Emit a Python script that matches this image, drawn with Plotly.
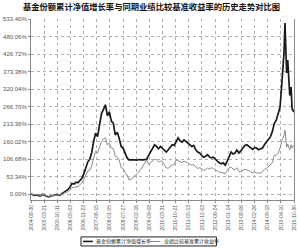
import plotly.graph_objects as go

title_text = "基金份额累计净值增长率与同期业绩比较基准收益率的历史走势对比图"
fund_name = "基金份额累计净值增长率"
bench_name = "业绩比较基准累计收益率"

months = []
for yr in range(2004, 2016):
    for mo in range(1, 13):
        if (yr == 2004 and mo < 8) or (yr == 2015 and mo > 5):
            continue
        months.append(f"{yr}-{mo:02d}-28")
tail_dates = ["2015-06-12", "2015-06-30", "2015-07-08", "2015-07-25",
              "2015-08-25", "2015-09-15", "2015-09-30", "2015-10-30"]
dates = months + tail_dates

fund = [
    0, -2, -4, -2, -6,
    -5, -1, -4, -6, -9, -7, -5, -2, -1, -4, -3, 2,
    6, 10, 14, 22, 32, 30, 36, 34, 40, 48, 62, 80,
    98, 106, 125, 160, 185, 175, 215, 245, 258, 272, 238, 250,
    222, 215, 180, 188, 170, 145, 140, 122, 110, 104, 103, 104,
    104, 103, 105, 104, 104, 105, 106, 118, 130, 142, 150, 145,
    138, 145, 140, 132, 128, 135, 142, 150, 148, 160, 171, 162,
    158, 165, 160, 155, 150, 145, 148, 135, 128, 125, 118, 112,
    115, 120, 113, 110, 112, 105, 100, 95, 92, 95, 88, 100,
    112, 128, 122, 125, 134, 125, 132, 140, 148, 150, 145, 140,
    136, 142, 140, 135, 138, 140, 150, 158, 165, 174, 190, 215,
    225, 245, 265, 347, 430,
    521, 420, 369, 408, 300, 326, 260, 250,
]

bench = [
    0, -1, -3, -2, -5,
    -4, -1, -3, -5, -7, -6, -5, -3, -2, -4, -3, 0,
    3, 5, 7, 12, 20, 19, 22, 22, 28, 34, 45, 60,
    70, 72, 85, 110, 130, 125, 140, 160, 168, 171, 150, 155,
    140, 138, 115, 112, 104, 80, 78, 65, 58, 43, 45, 50,
    55, 60, 67, 75, 85, 95, 104, 90, 95, 100, 106, 104,
    98, 100, 100, 90, 80, 78, 85, 88, 90, 104, 102, 98,
    96, 100, 98, 95, 90, 88, 90, 82, 78, 80, 78, 72,
    74, 79, 76, 80, 78, 74, 70, 66, 66, 65, 62, 72,
    80, 82, 76, 74, 80, 68, 68, 72, 75, 74, 72, 68,
    65, 67, 64, 65, 64, 68, 75, 78, 84, 88, 95, 118,
    118, 125, 140, 165, 178,
    195, 160, 143, 152, 135, 150, 140, 149,
]

y_ticks = [0.00, 53.34, 106.68, 160.02, 213.36, 266.70, 320.04, 373.38, 426.72, 480.06, 533.40]
y_labels = [f"{v:.2f}%" for v in y_ticks]

x_ticks = ["2004-08-30", "2005-03-21", "2005-10-11", "2006-05-03", "2006-11-23",
           "2007-06-15", "2008-01-05", "2008-07-27", "2009-02-16", "2009-09-08",
           "2010-03-31", "2010-10-21", "2011-05-13", "2011-12-03", "2012-06-24",
           "2013-01-14", "2013-08-06", "2014-02-26", "2014-09-18", "2015-04-10",
           "2015-10-30"]

fund_color = "#1a1a1a"
bench_color = "#8a8a8a"

fig = go.Figure()
fig.add_trace(go.Scatter(x=dates, y=fund, mode="lines", name=fund_name,
                         line=dict(color=fund_color, width=1.7)))
fig.add_trace(go.Scatter(x=dates, y=bench, mode="lines", name=bench_name,
                         line=dict(color=bench_color, width=1)))

# legend drawn as a boxed key below the axis
ly = -0.229
fig.add_shape(type="rect", xref="paper", yref="paper", x0=0.190, x1=0.705,
              y0=-0.254, y1=-0.204, line=dict(color="#222", width=1), fillcolor="white")
fig.add_shape(type="line", xref="paper", yref="paper", x0=0.198, x1=0.235,
              y0=ly, y1=ly, line=dict(color=fund_color, width=1.6))
fig.add_shape(type="line", xref="paper", yref="paper", x0=0.455, x1=0.492,
              y0=ly, y1=ly, line=dict(color=bench_color, width=1))
fig.add_annotation(xref="paper", yref="paper", x=0.240, y=ly, text=fund_name,
                   showarrow=False, xanchor="left", yanchor="middle",
                   font=dict(size=5, color="#222", family="Noto Sans CJK SC"))
fig.add_annotation(xref="paper", yref="paper", x=0.499, y=ly, text=bench_name,
                   showarrow=False, xanchor="left", yanchor="middle",
                   font=dict(size=5, color="#222", family="Noto Sans CJK SC"))

fig.update_layout(
    width=300, height=249,
    margin=dict(l=29, r=3, t=19, b=49),
    paper_bgcolor="white", plot_bgcolor="white",
    font=dict(family="Noto Sans CJK SC, Liberation Sans, sans-serif", color="#444"),
    title=dict(text=title_text, x=0.505, xanchor="center", y=0.985, yanchor="top",
               font=dict(size=8.3, color="#111", family="Noto Sans CJK SC", weight="bold")),
    showlegend=False,
)
fig.update_xaxes(
    type="date", range=["2004-08-30", "2015-10-30"],
    tickvals=x_ticks, ticktext=x_ticks, tickangle=-90,
    tickfont=dict(size=5, family="Liberation Sans", color="#555"),
    showgrid=True, gridcolor="#b0b0b0", griddash="dot", gridwidth=1,
    showline=True, linecolor="#888", linewidth=1,
    ticks="outside", ticklen=2, tickcolor="#888", zeroline=False,
)
fig.update_yaxes(
    range=[-18.3, 533.4],
    tickvals=y_ticks, ticktext=y_labels,
    tickfont=dict(size=6, family="Liberation Sans", color="#555"),
    showgrid=True, gridcolor="#b0b0b0", griddash="dot", gridwidth=1,
    showline=True, linecolor="#888", linewidth=1, mirror=True,
    ticks="outside", ticklen=2, tickcolor="#888", zeroline=False,
)

fig.write_html("out.html")
